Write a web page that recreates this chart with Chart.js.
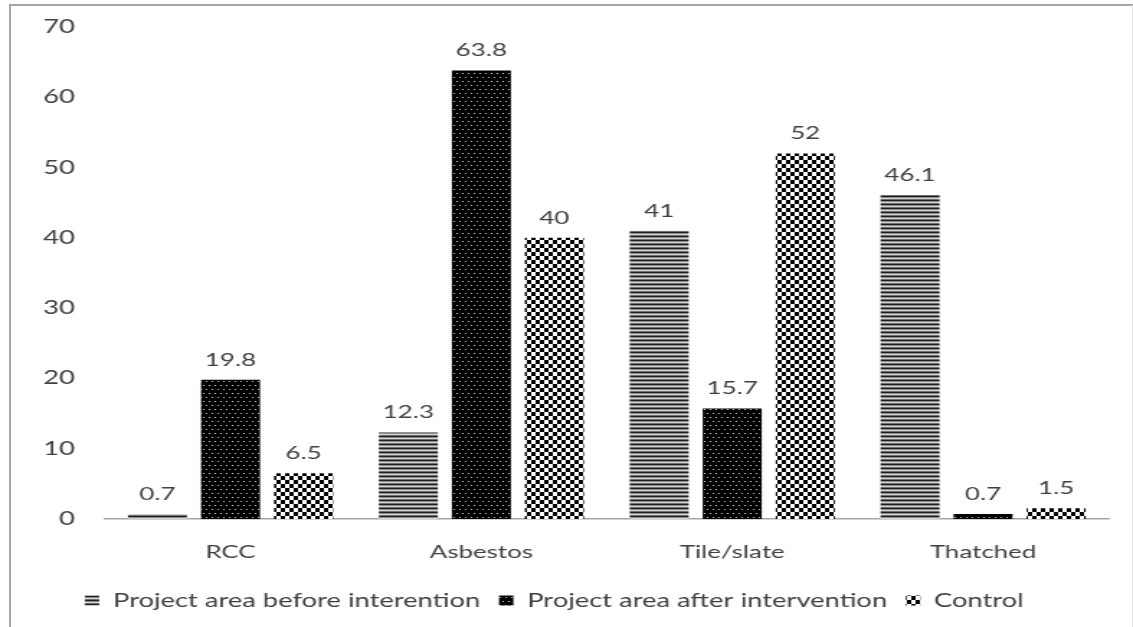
<!DOCTYPE html>
<html>
<head>
<meta charset="utf-8">
<script src="https://cdn.jsdelivr.net/npm/chart.js@4/dist/chart.umd.min.js"></script>
<style>
  html, body { margin: 0; padding: 0; background: #fff; width: 1133px; height: 627px; overflow: hidden; }
  #frame {
    position: absolute; left: 9px; top: 4px; width: 1121px; height: 640px;
    border-left: 2px solid #a6a6a6; border-top: 2px solid #a6a6a6; border-right: 1px solid #e4e4e4;
  }
  /* the chart is laid out narrow and widened horizontally */
  #wrap {
    position: absolute; left: 0; top: 0; width: 787px; height: 627px;
    transform: scaleX(1.4396); transform-origin: 0 0;
  }
</style>
</head>
<body>
<div id="frame"></div>
<div id="wrap"><canvas id="c"></canvas></div>
<script>
const categories = ['RCC', 'Asbestos', 'Tile/slate', 'Thatched'];
const seriesNames = ['Project area before interention', 'Project area after intervention', 'Control'];
const beforeValues = [0.7, 12.3, 41, 46.1];
const afterValues = [19.8, 63.8, 15.7, 0.7];
const controlValues = [6.5, 40, 52, 1.5];
const yTicks = [0, 10, 20, 30, 40, 50, 60, 70];

const FONT = 'Lato';
const TEXT = '#404040';

function tile(w, h, paint) {
  const c = document.createElement('canvas');
  c.width = w; c.height = h;
  const g = c.getContext('2d');
  paint(g);
  return g.createPattern(c, 'repeat');
}

// horizontal hatching
const stripes = tile(4, 4, g => {
  g.fillStyle = '#1e1e1e'; g.fillRect(0, 0, 4, 1);
  g.fillStyle = '#8c8c8c'; g.fillRect(0, 1, 4, 1);
  g.fillStyle = '#d4d4d4'; g.fillRect(0, 2, 4, 1);
  g.fillStyle = '#6e6e6e'; g.fillRect(0, 3, 4, 1);
});
// black with sparse light dots
const dots = tile(4, 8, g => {
  g.fillStyle = '#000'; g.fillRect(0, 0, 4, 8);
  g.fillStyle = '#d8d8d8'; g.fillRect(1, 1, 1, 1);
  g.fillStyle = '#bcbcbc'; g.fillRect(3, 5, 1, 1);
});
// checkerboard
const checks = tile(6, 8, g => {
  g.fillStyle = '#fff'; g.fillRect(0, 0, 6, 8);
  g.fillStyle = '#000'; g.fillRect(0, 0, 3, 4); g.fillRect(3, 4, 3, 4);
});

const valueLabels = {
  id: 'valueLabels',
  afterDatasetsDraw(chart) {
    const ctx = chart.ctx;
    ctx.save();
    ctx.font = '18px ' + FONT;
    ctx.fillStyle = TEXT;
    ctx.textAlign = 'center';
    ctx.textBaseline = 'middle';
    chart.data.datasets.forEach((ds, i) => {
      chart.getDatasetMeta(i).data.forEach((bar, j) => {
        ctx.fillText(String(ds.data[j]), bar.x, bar.y - 20);
      });
    });
    ctx.restore();
  }
};

const common = { borderWidth: 0, categoryPercentage: 0.8734, barPercentage: 0.808 };

new Chart(document.getElementById('c'), {
  type: 'bar',
  data: {
    labels: categories,
    datasets: [
      Object.assign({ label: seriesNames[0], data: beforeValues, backgroundColor: stripes }, common),
      Object.assign({ label: seriesNames[1], data: afterValues, backgroundColor: dots }, common),
      Object.assign({ label: seriesNames[2], data: controlValues, backgroundColor: checks }, common)
    ]
  },
  options: {
    responsive: true,
    maintainAspectRatio: false,
    devicePixelRatio: 1,
    animation: false,
    layout: { padding: { top: 27, right: 17, left: 0, bottom: 7 } },
    plugins: {
      legend: {
        position: 'bottom',
        labels: {
          boxWidth: 10, boxHeight: 10, padding: 13,
          color: TEXT, font: { family: FONT, size: 19 }
        }
      },
      tooltip: { enabled: false }
    },
    scales: {
      x: {
        afterFit: s => { s.height -= 6.5; },
        grid: { display: false, drawTicks: false },
        border: { display: true, color: '#a6a6a6', width: 1.5 },
        ticks: { color: TEXT, font: { family: FONT, size: 18 }, padding: 22 }
      },
      y: {
        min: 0, max: 70,
        afterBuildTicks: s => { s.ticks = yTicks.map(v => ({ value: v })); },
        afterFit: s => { s.width = 73; s.paddingTop = 0; s.paddingBottom = 0; },
        grid: { display: false, drawTicks: false },
        border: { display: false },
        ticks: { color: TEXT, font: { family: FONT, size: 19 }, padding: 21 }
      }
    }
  },
  plugins: [valueLabels]
});
</script>
</body>
</html>
